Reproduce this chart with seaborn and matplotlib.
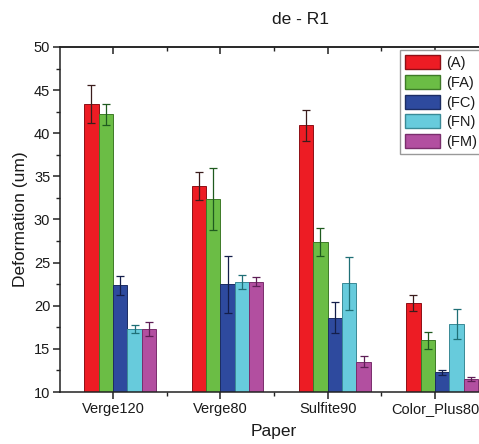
import numpy as np
import pandas as pd
import seaborn as sns
import matplotlib
matplotlib.use("Agg")
import matplotlib.pyplot as plt
from matplotlib.ticker import MultipleLocator, FixedLocator

papers = ["Verge120", "Verge80", "Sulfite90", "Color_Plus80"]
treatments = ["(A)", "(FA)", "(FC)", "(FN)", "(FM)"]

val_A = [43.4, 33.9, 40.9, 20.3]
val_FA = [42.2, 32.4, 27.4, 16.0]
val_FC = [22.4, 22.5, 18.6, 12.3]
val_FN = [17.3, 22.8, 22.6, 17.9]
val_FM = [17.3, 22.8, 13.5, 11.5]

err_A = [2.2, 1.6, 1.8, 0.9]
err_FA = [1.2, 3.6, 1.6, 1.0]
err_FC = [1.1, 3.3, 1.8, 0.3]
err_FN = [0.45, 0.8, 3.1, 1.7]
err_FM = [0.8, 0.5, 0.65, 0.2]

title = "de - R1"
xlabel = "Paper"
ylabel = "Deformation (um)"

colors = ["#ED1C24", "#6BBD45", "#2E4A9E", "#67CBDC", "#B24FA0"]
edge_colors = ["#8E1016", "#3E7A28", "#1C2D63", "#3A8A96", "#7A2E6C"]
err_colors = ["#3A1C1C", "#1F5A1F", "#141E4A", "#1F6F76", "#5E1E56"]

values = [val_A, val_FA, val_FC, val_FN, val_FM]
errors = [err_A, err_FA, err_FC, err_FN, err_FM]

rows = []
for t, vals in zip(treatments, values):
    for p, v in zip(papers, vals):
        rows.append({"Paper": p, "Treatment": t, "Value": v})
df = pd.DataFrame(rows)

sns.set_theme(style="ticks")
plt.rcParams["font.family"] = ["Liberation Sans", "DejaVu Sans"]
plt.rcParams["text.color"] = "#1a1a1a"
plt.rcParams["axes.labelcolor"] = "#1a1a1a"
plt.rcParams["xtick.color"] = "#1a1a1a"
plt.rcParams["ytick.color"] = "#1a1a1a"

fig = plt.figure(figsize=(4.79, 4.44), dpi=100)
ax = fig.add_axes([60 / 479, 52 / 444, 428 / 479, 345 / 444])

W = 0.67
sns.barplot(data=df, x="Paper", y="Value", hue="Treatment", order=papers,
            hue_order=treatments, palette=colors, width=W, gap=0,
            saturation=1, errorbar=None, ax=ax, legend=True)

bar_containers = list(ax.containers)
for ci, cont in enumerate(bar_containers):
    xs = []
    for patch in cont.patches:
        patch.set_edgecolor(edge_colors[ci])
        patch.set_linewidth(0.7)
        xs.append(patch.get_x() + patch.get_width() / 2)
    ax.errorbar(xs, values[ci], yerr=errors[ci], fmt="none",
                ecolor=err_colors[ci], elinewidth=0.9, capsize=3,
                capthick=0.9, zorder=5)

bw = W / len(treatments)
ticks = [i - bw / 2 for i in range(len(papers))]
ax.set_xticks(ticks)
ax.set_xticklabels(papers)
minor = [(ticks[i] + ticks[i + 1]) / 2 for i in range(len(ticks) - 1)]
ax.xaxis.set_minor_locator(FixedLocator(minor))
ax.set_xlim(ticks[0] - 0.494, ticks[-1] + 0.494)

ax.set_ylim(10, 50)
ax.yaxis.set_major_locator(MultipleLocator(5))
ax.yaxis.set_minor_locator(MultipleLocator(2.5))

for s in ax.spines.values():
    s.set_linewidth(1.1)
    s.set_color("#222222")

ax.tick_params(axis="both", which="major", labelsize=10.5, length=5,
               width=1.1, color="#222222", direction="out", pad=2)
ax.tick_params(axis="both", which="minor", length=3, width=1.0,
               color="#222222", direction="out")

sec = ax.secondary_xaxis("top")
sec.set_xticks(ticks)
sec.xaxis.set_minor_locator(FixedLocator(minor))
sec.tick_params(axis="x", which="major", direction="in", length=5, width=1.1,
                labeltop=False, color="#222222")
sec.tick_params(axis="x", which="minor", direction="in", length=3, width=1.0,
                labeltop=False, color="#222222")
sec.spines["top"].set_linewidth(1.1)
sec.spines["top"].set_color("#222222")

ax.set_xlabel(xlabel, fontsize=12.5, labelpad=6)
ax.set_ylabel(ylabel, fontsize=12.5, labelpad=4)

fig.text(300 / 479, 1 - 20 / 444, title, ha="center", va="center",
         fontsize=12.5)

handles, labels = ax.get_legend_handles_labels()
for h, ec in zip(handles, edge_colors):
    h.set_edgecolor(ec)
leg = ax.legend(handles, labels, loc="upper left",
                bbox_to_anchor=(400 / 479, 1 - 50 / 444),
                bbox_transform=fig.transFigure, fontsize=10.5,
                frameon=True, fancybox=False, framealpha=1,
                edgecolor="#999999", handlelength=2.4, handleheight=1.1,
                labelspacing=0.33, handletextpad=0.4, borderpad=0.35,
                borderaxespad=0)
leg.get_frame().set_linewidth(1.0)

fig.savefig("out.png", dpi=100)
